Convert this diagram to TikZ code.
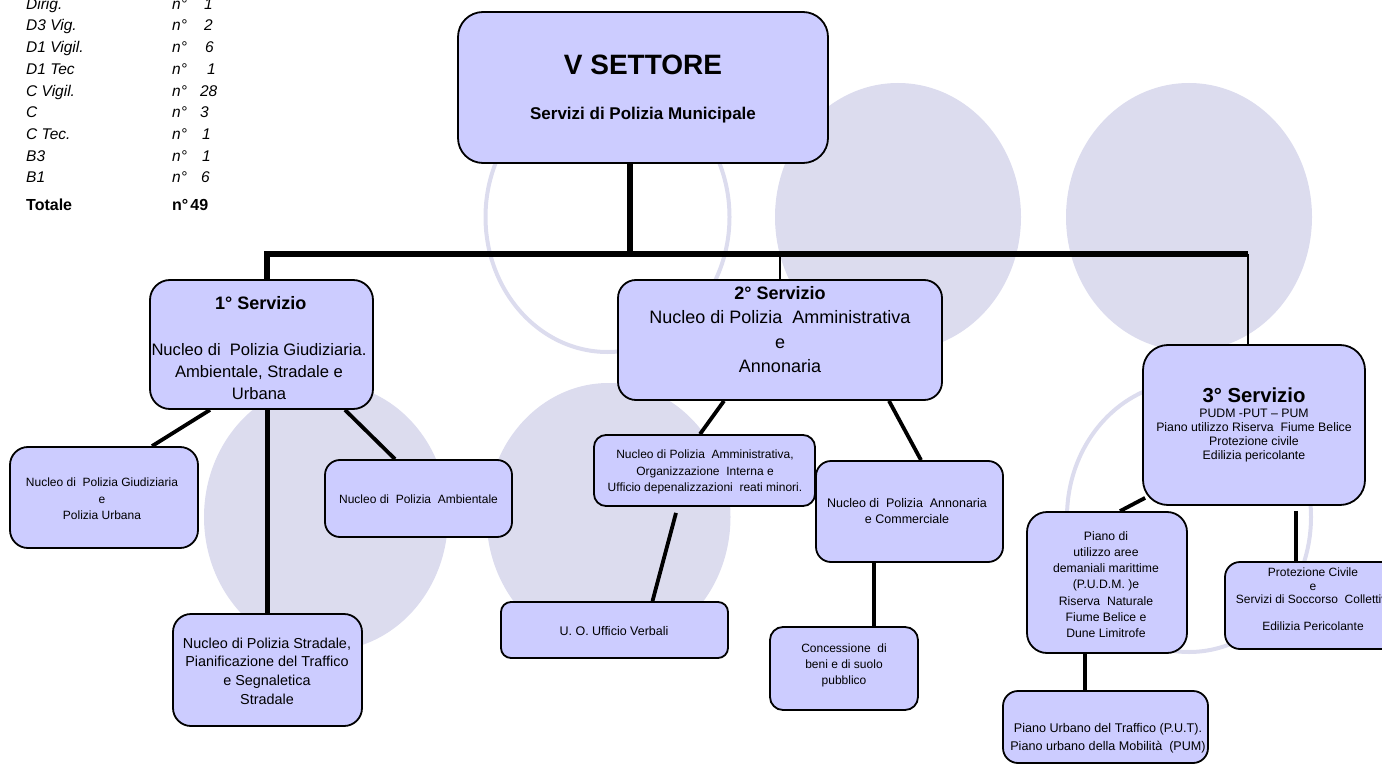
\documentclass[tikz,border=0pt]{standalone}
\usepackage{fontspec}
\setmainfont{Liberation Sans}
\newcommand{\myfs}[2]{\fontsize{#1}{#2}\selectfont}
\definecolor{boxfill}{HTML}{CCCCFF}
\definecolor{bgell}{HTML}{DCDCEE}
\pgfdeclarelayer{bg}
\pgfdeclarelayer{lines}
\pgfsetlayers{bg,lines,main}
\tikzset{
  box/.style={draw=black, line width=1.8pt, fill=boxfill, inner sep=0pt},
  txt/.style={align=center, inner sep=0pt, text=black},
  tab/.style={anchor=base west, inner sep=0pt, text=black},
  busline/.style={draw=black, line width=5.5pt},
  thickline/.style={draw=black, line width=4.8pt},
  medline/.style={draw=black, line width=3.8pt},
  thinline/.style={draw=black, line width=2.2pt},
  blob/.style={fill=bgell},
  ring/.style={draw=bgell, line width=4pt}
}
\begin{document}
\begin{tikzpicture}[x=1pt,y=-1pt]
\useasboundingbox (0,0) rectangle (1382,765);
\clip (0,0) rectangle (1382,765);

% background ellipses
\begin{pgfonlayer}{bg}
\path[blob] (898,217) ellipse [x radius=123pt, y radius=134pt];
\path[blob] (1189,217) ellipse [x radius=123pt, y radius=134pt];
\path[blob] (326,517) ellipse [x radius=122pt, y radius=134pt];
\path[blob] (608.5,517) ellipse [x radius=122pt, y radius=134pt];
\path[ring] (607.5,217) ellipse [x radius=122pt, y radius=135pt];
\path[ring] (1189,517) ellipse [x radius=122pt, y radius=135pt];
\end{pgfonlayer}

% boxes
\node[box, rounded corners=25pt, minimum width=370pt, minimum height=151pt] (top) at (643,87.5) {};
\node[box, rounded corners=20pt, minimum width=223pt, minimum height=129pt] (s1) at (261.5,344.5) {};
\node[box, rounded corners=18pt, minimum width=324pt, minimum height=120pt] (s2) at (780,340) {};
\node[box, rounded corners=25pt, minimum width=222pt, minimum height=160pt] (s3) at (1254,425) {};
\node[box, rounded corners=18pt, minimum width=188pt, minimum height=101pt] (g1) at (104,497.5) {};
\node[box, rounded corners=15pt, minimum width=187pt, minimum height=77pt] (amb) at (418.5,498.5) {};
\node[box, rounded corners=18pt, minimum width=189pt, minimum height=112pt] (strad) at (267.5,670) {};
\node[box, rounded corners=12pt, minimum width=221pt, minimum height=71pt] (adm) at (704.5,470.5) {};
\node[box, rounded corners=15pt, minimum width=187pt, minimum height=101pt] (ann) at (909.5,511.5) {};
\node[box, rounded corners=10pt, minimum width=227pt, minimum height=56pt] (verb) at (614.5,630) {};
\node[box, rounded corners=13pt, minimum width=148pt, minimum height=83pt] (conc) at (844,668.5) {};
\node[box, rounded corners=20pt, minimum width=160pt, minimum height=141pt] (pudm) at (1107,582.5) {};
\node[box, rounded corners=15pt, minimum width=176pt, minimum height=87pt] (prot) at (1313,605.5) {};
\node[box, rounded corners=15pt, minimum width=205pt, minimum height=72pt] (put) at (1105.5,727) {};

% connectors
\coordinate (busT) at (630,254);
\coordinate (busL) at (267,254);
\coordinate (busR) at (1248,254);
\coordinate (busM) at (780,254);
\begin{pgfonlayer}{lines}
\draw[busline] (top.south -| busT) -- (busT);
\draw[busline, line join=miter] (s1.north -| busL) -- (busL) -- (busR);
\draw[thinline] (busR) -- (s3.north -| busR);
\draw[thinline] (busM) -- (s2.north);
\draw[medline] ([xshift=-51.5pt]s1.south) -- ([xshift=48pt]g1.north);
\draw[medline] ([xshift=83.5pt]s1.south) -- ([xshift=-23.5pt]amb.north);
\draw[thickline] (strad.north |- s1.south) -- (strad.north);
\draw[medline] ([xshift=-56pt]s2.south) -- ([xshift=-4.5pt]adm.north);
\draw[medline] ([xshift=109pt]s2.south) -- ([xshift=11.5pt]ann.north);
\draw[medline] ([xshift=-28.5pt,yshift=-6pt]adm.south) -- ([xshift=38pt]verb.north);
\draw[medline] ([xshift=-35.5pt]ann.south) -- ([xshift=30pt]conc.north);
\draw[medline] ([xshift=3pt,yshift=8pt]s3.south west) -- ([xshift=13pt]pudm.north);
\draw[thickline] ([xshift=42pt,yshift=-5pt]s3.south) -- ([xshift=-17pt]prot.north);
\draw[thickline] ([xshift=-22pt]pudm.south) -- ([xshift=-20.5pt]put.north);
\end{pgfonlayer}

% box texts
\node[txt, font=\myfs{28}{32}\bfseries] (ttop1) at (643,65) {V SETTORE};
\node[txt, font=\myfs{17}{20}\bfseries] (ttop2) at (643,115) {Servizi di Polizia Municipale};
\node[txt, font=\myfs{18}{22}\bfseries] (ts1a) at (260.7,303) {1° Servizio};
\node[txt, font=\myfs{16.6}{22}] (ts1b) at (259,372) {Nucleo di~ Polizia Giudiziaria.\\Ambientale, Stradale e\\Urbana};
\node[txt, font=\myfs{18}{22}\bfseries] (ts2a) at (780,293) {2° Servizio};
\node[txt, font=\myfs{18}{24.5}] (ts2b) at (780,342) {Nucleo di Polizia~ Amministrativa\\e\\Annonaria};
\node[txt, font=\myfs{20.3}{24}\bfseries] (ts3a) at (1254,395) {3° Servizio};
\node[txt, font=\myfs{12.3}{14}] (ts3b) at (1254,436) {PUDM -PUT – PUM\\Piano utilizzo Riserva~ Fiume Belice\\Protezione civile\\Edilizia pericolante};
\node[txt, font=\myfs{12}{16.5}] (tg1) at (102,499) {Nucleo di~ Polizia Giudiziaria\\e\\Polizia Urbana};
\node[txt, font=\myfs{12}{16}] (tamb) at (418.5,499) {Nucleo di~ Polizia~ Ambientale};
\node[txt, font=\myfs{14.4}{18.7}] (tstrad) at (267,671) {Nucleo di Polizia Stradale,\\Pianificazione del Traffico\\e Segnaletica\\Stradale};
\node[txt, font=\myfs{12}{16.5}] (tadm) at (705,472) {Nucleo di Polizia~ Amministrativa,\\Organizzazione~ Interna e\\Ufficio depenalizzazioni~ reati minori.};
\node[txt, font=\myfs{12.5}{16}] (tann) at (907,511) {Nucleo di~ Polizia~ Annonaria\\e Commerciale};
\node[txt, font=\myfs{12.5}{16}] (tverb) at (614,631) {U. O. Ufficio Verbali};
\node[txt, font=\myfs{12}{16}] (tconc) at (844,665) {Concessione~ di\\beni e di suolo\\pubblico};
\node[txt, font=\myfs{12.2}{16.2}] (tpudm) at (1106,584.5) {Piano di\\utilizzo aree\\demaniali marittime\\(P.U.D.M. )e\\Riserva~ Naturale\\Fiume Belice e\\Dune Limitrofe};
\node[txt, font=\myfs{12}{13.3}] (tprot) at (1313,599.5) {Protezione Civile\\e\\Servizi di Soccorso~ Collettivi\\[13.7pt]Edilizia Pericolante};
\node[txt, font=\myfs{12.6}{18}] (tput) at (1108,738) {Piano Urbano del Traffico (P.U.T).\\Piano urbano della Mobilità~ (PUM)};

% staff table
\begin{scope}[font=\myfs{15.5}{18}\itshape]
\node[tab] (l1) at (26,9.3) {Dirig.};      \node[tab] (v1) at (172,9.3) {n°\hspace{17pt}1};
\node[tab] (l2) at (26,31) {D3 Vig.};      \node[tab] (v2) at (172,31) {n°\hspace{17pt}2};
\node[tab] (l3) at (26,52.7) {D1 Vigil.};  \node[tab] (v3) at (172,52.7) {n°\hspace{18pt}6};
\node[tab] (l4) at (26,74.4) {D1 Tec};     \node[tab] (v4) at (172,74.4) {n°\hspace{20pt}1};
\node[tab] (l5) at (26,96.1) {C Vigil.};   \node[tab] (v5) at (172,96.1) {n°\hspace{13pt}28};
\node[tab] (l6) at (26,117.8) {C};         \node[tab] (v6) at (172,117.8) {n°\hspace{13pt}3};
\node[tab] (l7) at (26,139.5) {C Tec.};    \node[tab] (v7) at (172,139.5) {n°\hspace{15pt}1};
\node[tab] (l8) at (26,161.2) {B3};        \node[tab] (v8) at (172,161.2) {n°\hspace{15pt}1};
\node[tab] (l9) at (26,182.9) {B1};        \node[tab] (v9) at (172,182.9) {n°\hspace{14pt}6};
\end{scope}
\node[tab, font=\myfs{16}{18}\bfseries] (ltot) at (26,211) {Totale};
\node[tab, font=\myfs{16}{18}\bfseries] (vtot) at (172,211) {n°\hspace{2pt}49};
\end{tikzpicture}
\end{document}
